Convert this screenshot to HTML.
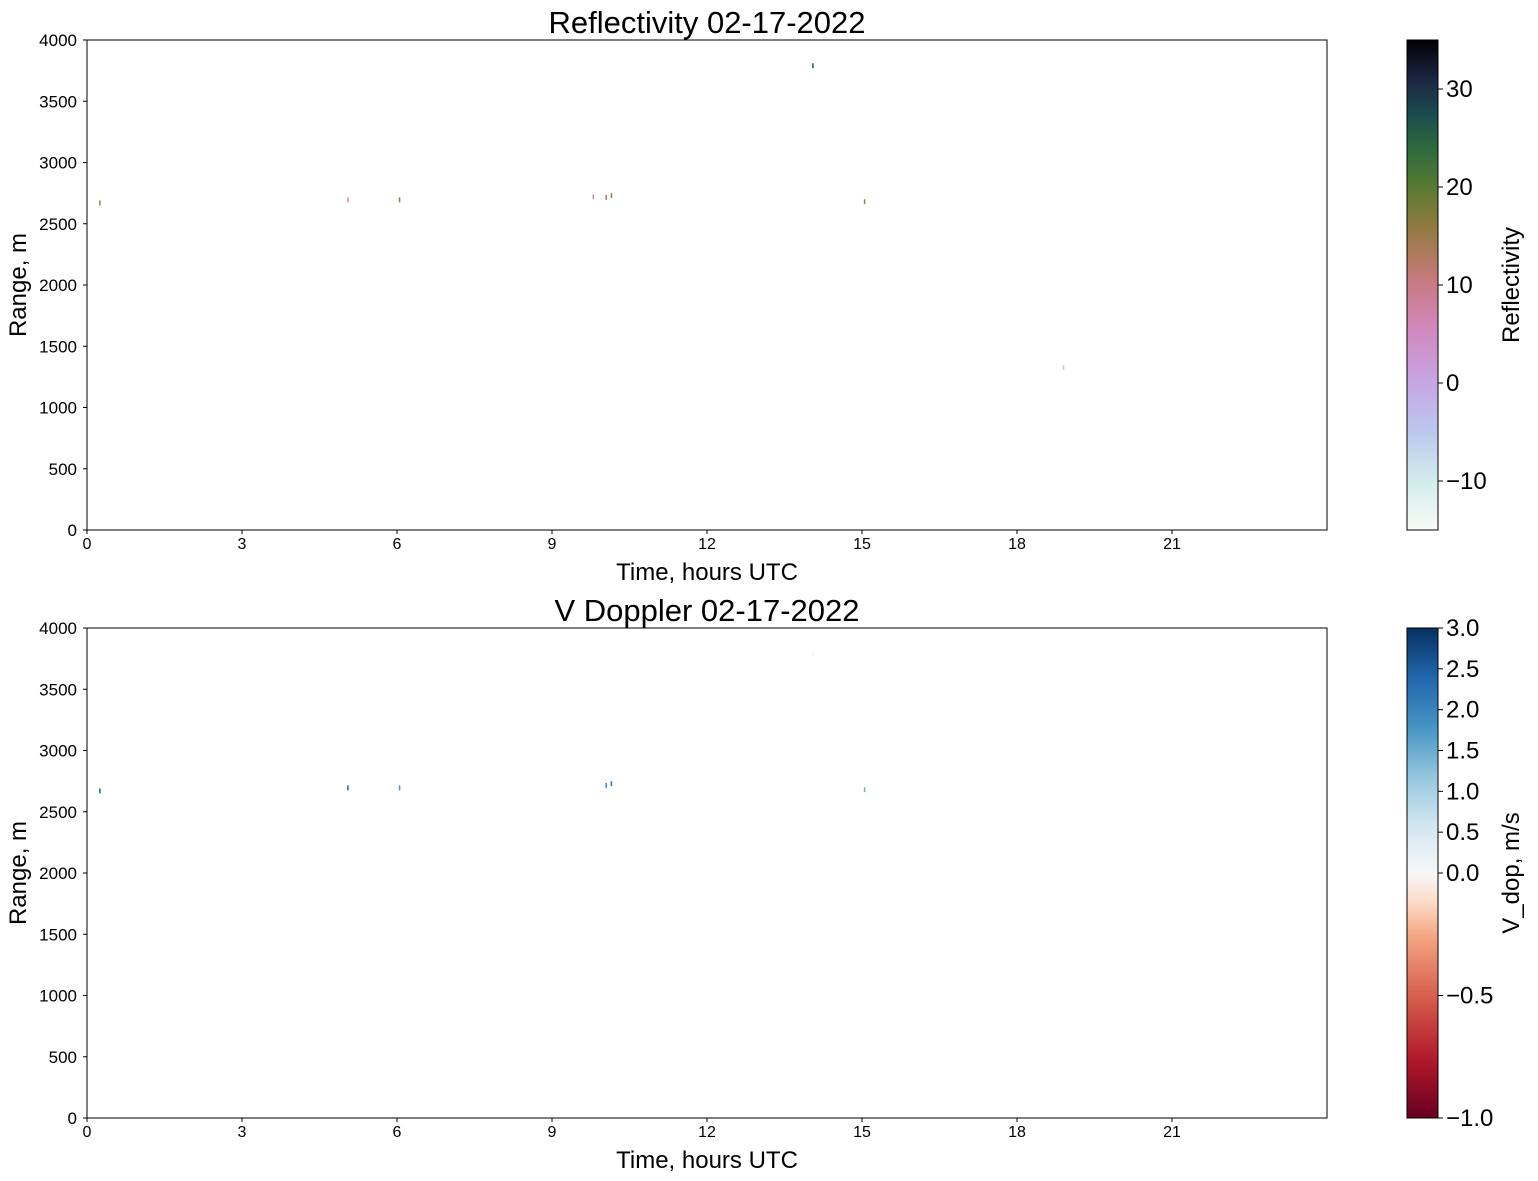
<!DOCTYPE html>
<html><head><meta charset="utf-8"><style>
body{margin:0;background:#fff;}
svg{display:block;font-family:"Liberation Sans","DejaVu Sans",sans-serif;}
</style></head><body>
<svg id="fig" width="1538" height="1181" viewBox="0 0 1538 1181" xmlns="http://www.w3.org/2000/svg">
<defs>
<linearGradient id="gRef" x1="0" y1="1" x2="0" y2="0">
<stop offset="0" stop-color="#f8fbf6"/><stop offset="0.1" stop-color="#d2ecec"/><stop offset="0.2" stop-color="#bcc8ee"/><stop offset="0.3" stop-color="#c6a6e4"/><stop offset="0.4" stop-color="#d18ac2"/><stop offset="0.5" stop-color="#c97a86"/><stop offset="0.56" stop-color="#b07a5e"/><stop offset="0.63" stop-color="#8a7a3c"/><stop offset="0.7" stop-color="#587a33"/><stop offset="0.78" stop-color="#2d6a3e"/><stop offset="0.85" stop-color="#1b4a4e"/><stop offset="0.92" stop-color="#1c2644"/><stop offset="1" stop-color="#030005"/>
</linearGradient>
<linearGradient id="gVel" x1="0" y1="1" x2="0" y2="0">
<stop offset="0" stop-color="#67001f"/><stop offset="0.12" stop-color="#b2182b"/><stop offset="0.25" stop-color="#d6604d"/><stop offset="0.37" stop-color="#f4a582"/><stop offset="0.44" stop-color="#fddbc7"/><stop offset="0.5" stop-color="#f7f7f7"/><stop offset="0.6" stop-color="#d1e5f0"/><stop offset="0.7" stop-color="#92c5de"/><stop offset="0.8" stop-color="#4393c3"/><stop offset="0.9" stop-color="#2166ac"/><stop offset="1" stop-color="#053061"/>
</linearGradient>
</defs>
<g id="root"></g>
</svg>
<script>
const xTicks=[0,3,6,9,12,15,18,21];
const yTicks=[0,500,1000,1500,2000,2500,3000,3500,4000];
const refTimes=[0.25,5.05,6.05,9.8,10.05,10.15,14.05,15.05,18.9];
const refRanges=[2650,2675,2675,2700,2695,2710,3770,2660,1305];
const refValues=[15,6,15,6,15,15,26,15,-5];
const velTimes=[0.25,5.05,6.05,10.05,10.15,14.05,15.05];
const velRanges=[2650,2675,2675,2695,2710,3770,2660];
const velValues=[2.5,2.5,1.8,2.0,2.2,0.1,1.5];
const refCbTicks=[-10,0,10,20,30];
const velCbTicks=[-1.0,-0.5,0.0,0.5,1.0,1.5,2.0,2.5,3.0];
const gateLen=40;

const NS="http://www.w3.org/2000/svg";
const root=document.getElementById('root');
function mk(tag,attrs,parent){const e=document.createElementNS(NS,tag);for(const k in attrs)e.setAttribute(k,attrs[k]);(parent||root).appendChild(e);return e;}
function txt(s,attrs,parent){const e=mk('text',attrs,parent);e.textContent=s;return e;}
const fmt=v=>String(v).replace('-','\u2212');

const refStops=[[0,[248,251,246]],[0.1,[210,236,236]],[0.2,[188,200,238]],[0.3,[198,166,228]],[0.4,[209,138,194]],[0.5,[201,122,134]],[0.56,[176,122,94]],[0.63,[138,122,60]],[0.7,[88,122,51]],[0.78,[45,106,62]],[0.85,[27,74,78]],[0.92,[28,38,68]],[1,[3,0,5]]];
const velStops=[[0,[103,0,31]],[0.12,[178,24,43]],[0.25,[214,96,77]],[0.37,[244,165,130]],[0.44,[253,219,199]],[0.5,[247,247,247]],[0.6,[209,229,240]],[0.7,[146,197,222]],[0.8,[67,147,195]],[0.9,[33,102,172]],[1,[5,48,97]]];
function cmap(stops,t){t=Math.max(0,Math.min(1,t));for(let i=1;i<stops.length;i++){if(t<=stops[i][0]){const a=stops[i-1],b=stops[i],f=(t-a[0])/(b[0]-a[0]);return 'rgb('+a[1].map((c,j)=>Math.round(c+(b[1][j]-c)*f)).join(',')+')';}}return 'rgb(0,0,0)';}

function panel(top,title,times,ranges,vals,colorFn,prefix){
  const L=87,R=1327,T=top,B=top+490;
  const xs=h=>L+h/24*(R-L), ys=r=>B-r/4000*(B-T);
  const g=mk('g',{});
  
  
  const marks=mk('g',{},g);
  
  
  for(let i=0;i<times.length;i++){
    const r=mk('rect',{x:xs(times[i])-0.75,y:ys(ranges[i]+gateLen),width:1.5,height:ys(ranges[i])-ys(ranges[i]+gateLen),fill:colorFn(vals[i])},marks);
    
    
  }
  const fr=mk('rect',{x:L,y:T,width:R-L,height:B-T,fill:'none',stroke:'#000','stroke-width':1},g);
  
  
  xTicks.forEach(v=>{const x=xs(v);mk('line',{x1:x,x2:x,y1:B,y2:B+4,stroke:'#000'},g);
    const t=txt(fmt(v),{x:x,y:B+19,'font-size':16,'text-anchor':'middle'},g);
    });
  yTicks.forEach(v=>{const y=ys(v);mk('line',{x1:L-4,x2:L,y1:y,y2:y,stroke:'#000'},g);
    const t=txt(fmt(v),{x:L-10,y:y+6,'font-size':17,'text-anchor':'end'},g);
    });
  const ti=txt(title,{x:(L+R)/2,y:T-7,'font-size':31,'text-anchor':'middle'},g);
  
  const xl=txt('Time, hours UTC',{x:(L+R)/2,y:B+50,'font-size':24,'text-anchor':'middle'},g);
  
  const yl=txt('Range, m',{x:0,y:0,'font-size':24,'text-anchor':'middle',transform:`translate(26,${(T+B)/2}) rotate(-90)`},g);
  
}

function colorbar(top,grad,ticks,pos,label,prefix,dec){
  const L=1407,R=1438,T=top,B=top+490;
  const g=mk('g',{});
  
  
  mk('rect',{x:L,y:T,width:R-L,height:B-T,fill:'url(#'+grad+')',stroke:'#000','stroke-width':1},g);
  ticks.forEach(v=>{const y=pos(v);mk('line',{x1:R,x2:R+5,y1:y,y2:y,stroke:'#000'},g);
    const t=txt(fmt(dec?v.toFixed(1):v),{x:R+8,y:y+8,'font-size':24},g);
    });
  const l=txt(label,{x:0,y:0,'font-size':24,'text-anchor':'middle',transform:`translate(1519,${(T+B)/2}) rotate(-90)`},g);
  
}

const refNorm=v=>(v+15)/50;
const velNorm=v=>v>=0?0.5+v/6:0.5+v/2;
panel(40,'Reflectivity 02-17-2022',refTimes,refRanges,refValues,v=>cmap(refStops,refNorm(v)),'reflectivity');
panel(628,'V Doppler 02-17-2022',velTimes,velRanges,velValues,v=>cmap(velStops,velNorm(v)),'doppler');
colorbar(40,'gRef',refCbTicks,v=>530-refNorm(v)*490,'Reflectivity','reflectivity',false);
colorbar(628,'gVel',velCbTicks,v=>1118-velNorm(v)*490,'V_dop, m/s','doppler',true);
</script>
</body></html>
